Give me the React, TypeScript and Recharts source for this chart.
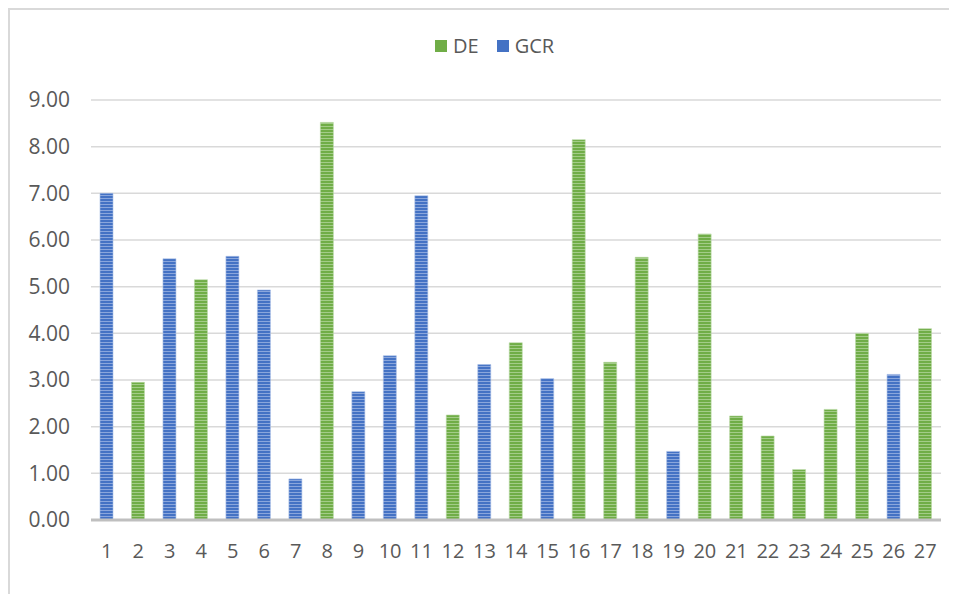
import { Bar, BarChart, CartesianGrid, Legend, XAxis, YAxis } from 'recharts';

const labels = [
  '1', '2', '3', '4', '5', '6', '7', '8', '9', '10', '11', '12', '13', '14',
  '15', '16', '17', '18', '19', '20', '21', '22', '23', '24', '25', '26', '27',
];
const deValues = [
  null, 2.95, null, 5.15, null, null, null, 8.52, null, null, null, 2.25, null, 3.8,
  null, 8.15, 3.38, 5.63, null, 6.13, 2.23, 1.8, 1.08, 2.37, 4.0, null, 4.1,
];
const gcrValues = [
  7.0, null, 5.6, null, 5.65, 4.93, 0.88, null, 2.75, 3.52, 6.95, null, 3.33, null,
  3.03, null, null, null, 1.47, null, null, null, null, null, null, 3.12, null,
];
const yTicks = [0, 1, 2, 3, 4, 5, 6, 7, 8, 9];

const data = labels.map((n, i) => ({ n, DE: deValues[i], GCR: gcrValues[i] }));

const FONT = '"Open Sans", "Liberation Sans", sans-serif';
const TEXT = '#595959';

function LegendBox() {
  const item = (color: string, label: string) => (
    <div style={{ display: 'flex', alignItems: 'center', marginRight: 18 }}>
      <div style={{ width: 12, height: 12, background: color, marginRight: 6 }} />
      <span style={{ fontSize: 20, color: TEXT, fontFamily: FONT, lineHeight: '20px' }}>{label}</span>
    </div>
  );
  return (
    <div style={{ height: 40, display: 'flex', alignItems: 'center', paddingLeft: 425 }}>
      {item('#70ad47', 'DE')}
      {item('#4472c4', 'GCR')}
    </div>
  );
}

export default function App() {
  return (
    <div
      style={{
        width: 949,
        height: 586,
        boxSizing: 'border-box',
        borderLeft: '2px solid #d9d9d9',
        borderTop: '2px solid #d9d9d9',
        background: '#fff',
        overflow: 'hidden',
      }}
    >
      <BarChart
        width={947}
        height={584}
        data={data}
        margin={{ top: 50, right: 16, left: 0, bottom: 44 }}
        barSize={13}
      >
        <defs>
          <pattern id="stripeGreen" width="4" height="3" patternUnits="userSpaceOnUse">
            <rect width="4" height="3" fill="#70ad47" />
            <rect y="2" width="4" height="1" fill="#a3cc88" />
          </pattern>
          <pattern id="stripeBlue" width="4" height="3" patternUnits="userSpaceOnUse">
            <rect width="4" height="3" fill="#4472c4" />
            <rect y="2" width="4" height="1" fill="#8aa6dc" />
          </pattern>
        </defs>
        <CartesianGrid vertical={false} stroke="#d9d9d9" strokeWidth={1.5} />
        <XAxis
          dataKey="n"
          interval={0}
          height={30}
          tickLine={false}
          tickSize={0}
          tickMargin={24}
          axisLine={{ stroke: '#bfbfbf', strokeWidth: 3 }}
          tick={{ fill: TEXT, fontSize: 20, fontFamily: FONT }}
        />
        <YAxis
          width={81}
          domain={[0, 9]}
          ticks={yTicks}
          axisLine={false}
          tickLine={false}
          tickSize={0}
          tickMargin={21}
          tickFormatter={(v: number) => v.toFixed(2)}
          tick={{ fill: TEXT, fontSize: 21, fontFamily: FONT }}
        />
        <Legend verticalAlign="top" content={() => <LegendBox />} wrapperStyle={{ top: 16, left: 0, width: 947 }} />
        <Bar dataKey="DE" stackId="a" fill="url(#stripeGreen)" stroke="#b9d8a4" strokeWidth={0.6} isAnimationActive={false} />
        <Bar dataKey="GCR" stackId="a" fill="url(#stripeBlue)" stroke="#a9bfe6" strokeWidth={0.6} isAnimationActive={false} />
      </BarChart>
    </div>
  );
}
